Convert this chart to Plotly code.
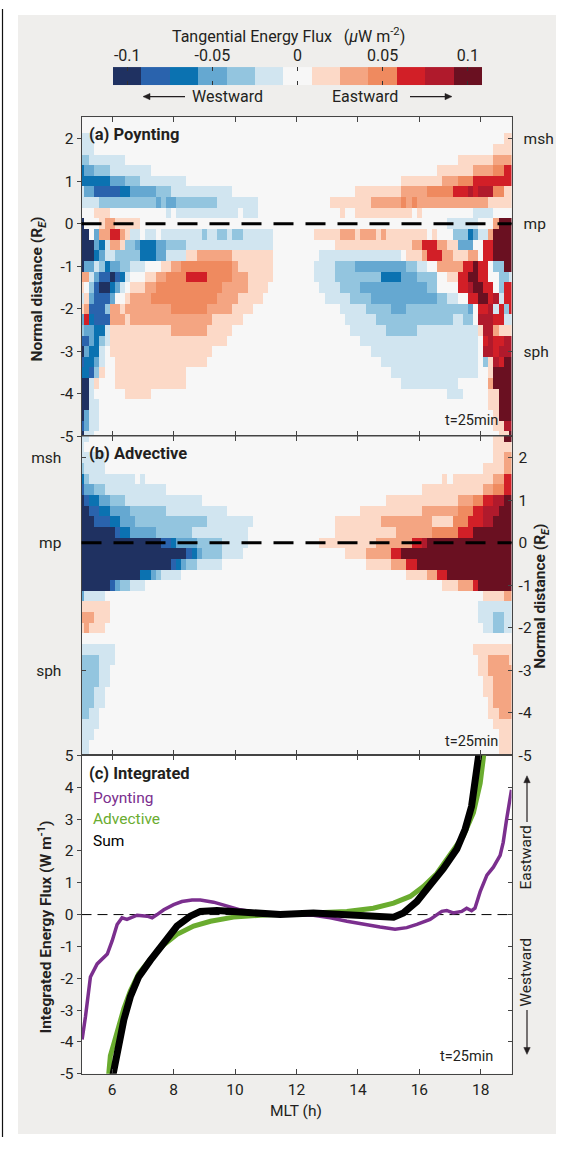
import plotly.graph_objects as go

W, H = 567, 1149


def px(x):
    return x / W


def py(y):
    return 1 - y / H


# ---------------- data ----------------
# heatmap grid (cell centres)
MLT_GRID = [round(5 + k / 6, 4) for k in range(85)]          # MLT (h)
DIST_GRID = [2.5 - 0.25 * j for j in range(31)]              # normal distance (R_E), top -> bottom
LEVEL_STEP = 1 / 60                                          # uW m^-2 per colour level

# colour levels; runs "code@end_column"
# codes: f e d c b a = -6..-1 , 0 , 1..6
POYNTING_ROWS = [
    "",
    "",
    "a@3 0@83 1@85",
    "a@3 0@81 1@85",
    "b@2 a@9 0@74 1@81 2@85",
    "d@1 c@3 b@6 a@14 0@70 1@77 2@81 3@83 4@85",
    "d@6 c@9 b@12 a@21 0@63 1@71 2@74 3@77 4@85",
    "a@1 c@3 e@8 d@10 c@15 b@18 a@30 0@54 1@63 2@68 3@73 4@76 5@77 4@78 5@81 3@83 1@85",
    "a@4 b@15 c@16 b@17 c@19 b@27 a@35 0@49 1@57 2@63 3@64 2@65 3@66 2@80 1@85",
    "0@3 1@6 0@17 a@18 0@19 a@31 0@32 a@35 0@51 1@52 0@54 1@65 0@66 1@67 0@77 a@81 0@85",
    "f@1 0@4 1@5 2@7 1@12 0@72 a@78 0@81 2@82 6@85",
    "f@2 0@3 c@4 2@6 4@8 2@9 1@10 a@12 0@13 a@15 0@16 a@24 b@25 a@27 b@29 a@30 b@32 a@38 0@46 1@51 2@54 1@55 2@58 1@59 2@60 1@68 0@69 1@70 0@73 b@76 d@77 c@78 a@80 2@81 6@85",
    "f@3 c@4 d@5 a@6 2@8 1@9 b@11 c@12 d@15 c@17 b@21 a@38 0@50 1@65 2@67 4@70 2@72 1@74 c@77 0@79 4@81 6@85",
    "f@3 d@4 c@5 a@7 b@12 d@15 c@17 a@21 1@23 2@30 1@38 0@47 a@63 0@64 1@67 2@68 4@71 2@73 1@76 2@78 0@79 4@81 6@85",
    "f@1 c@3 a@4 b@5 d@6 c@8 b@10 a@13 0@16 1@18 2@20 3@30 2@31 1@38 0@46 a@50 b@54 c@64 b@66 a@68 0@70 2@75 4@77 6@78 4@80 0@81 b@83 6@85",
    "2@2 a@3 c@4 e@6 f@7 e@8 d@9 a@10 0@13 1@15 2@17 3@21 4@25 3@30 2@33 1@38 0@46 a@50 b@59 d@63 c@66 b@70 0@72 1@74 4@76 6@78 4@80 0@82 b@84 a@85",
    "1@1 0@2 b@3 e@4 f@6 d@7 c@8 a@9 0@10 1@13 2@15 3@28 2@33 1@37 0@47 a@51 b@55 c@68 b@70 0@74 4@76 5@77 6@79 4@81 0@82 b@83 4@85",
    "a@1 1@2 c@3 e@6 c@7 0@9 1@10 2@14 3@27 2@31 1@36 0@48 a@53 b@57 c@70 b@72 a@74 0@76 4@78 6@80 4@81 5@82 a@83 4@85",
    "1@1 2@2 e@5 b@6 2@8 1@9 2@18 3@25 2@30 1@34 0@51 a@56 b@61 c@64 b@76 c@77 0@78 4@80 5@81 a@82 4@83 b@84 4@85",
    "c@1 4@2 d@3 e@6 2@9 1@10 2@26 1@32 0@52 a@58 b@73 a@75 b@77 0@78 5@81 4@83 a@85",
    "b@1 c@3 d@5 a@6 1@18 2@25 1@30 0@53 a@60 b@66 a@78 1@79 5@81 2@82 1@85",
    "e@2 c@3 d@4 b@5 a@6 1@29 0@55 a@78 0@79 4@80 5@81 4@83 5@85",
    "f@1 c@2 d@4 a@5 0@6 1@26 0@57 a@78 0@79 5@81 4@82 5@85",
    "e@1 d@3 c@4 a@5 0@7 1@25 0@59 a@78 0@79 b@80 1@81 5@82 4@83 6@85",
    "d@2 e@3 b@4 1@5 0@7 1@21 0@61 a@78 0@80 1@81 6@85",
    "f@2 a@3 1@4 0@7 1@21 0@63 a@74 0@80 2@81 6@85",
    "f@2 a@3 0@9 1@14 0@72 a@75 0@80 1@82 6@85",
    "f@2 a@4 0@80 1@82 6@85",
    "f@1 c@2 a@4 0@81 1@82 6@85",
    "e@1 c@2 a@4 0@81 1@83 5@85",
    "f@1 a@3 0@82 1@84 6@85",
]

ADVECTIVE_ROWS = [
    "a@2 0@81 1@83 6@85",
    "a@1 0@81 1@85",
    "a@5 0@81 1@83 2@85",
    "b@1 a@5 0@79 1@83 2@85",
    "d@1 b@2 a@11 0@12 a@13 0@71 1@72 0@73 1@81 2@83 4@85",
    "e@1 c@3 b@5 a@17 0@67 1@79 2@81 3@83 4@85",
    "f@1 e@2 d@4 c@6 b@9 a@24 0@60 1@74 2@77 3@79 4@81 5@83 6@85",
    "f@2 e@4 d@6 c@10 b@17 a@29 0@55 1@67 2@74 3@77 4@79 5@82 6@85",
    "f@3 e@6 d@8 c@11 b@25 a@34 0@50 1@59 2@69 1@73 3@76 4@79 5@81 6@85",
    "f@7 e@8 d@10 c@15 b@22 a@33 0@50 1@62 2@69 3@74 4@77 6@85",
    "f@16 e@18 d@19 c@23 b@28 a@33 0@47 1@58 2@65 4@67 5@68 6@85",
    "f@21 e@22 d@23 c@24 b@28 a@32 0@52 1@56 2@61 4@63 6@85",
    "f@18 e@19 d@20 c@21 b@23 a@28 0@56 1@61 2@64 4@66 6@85",
    "f@12 d@14 c@15 b@16 a@20 0@64 1@68 2@70 4@72 6@85",
    "f@6 e@7 c@8 b@10 a@13 0@71 1@74 2@77 4@78 6@85",
    "c@1 a@5 0@79 1@83 2@85",
    "1@6 0@78 a@85",
    "2@3 1@6 0@78 a@81 b@83 a@85",
    "1@1 2@2 1@5 0@79 a@81 b@83 a@85",
    "",
    "a@7 0@77 1@85",
    "b@4 a@7 0@78 1@80 2@84 1@85",
    "b@4 a@6 0@78 1@80 2@85",
    "b@4 a@6 0@79 1@81 2@85",
    "b@3 a@5 0@79 1@81 2@85",
    "b@3 a@5 0@80 1@81 2@85",
    "b@2 a@4 0@80 1@82 2@85",
    "a@4 0@81 1@85",
    "a@3 0@82 1@85",
    "a@2 0@82 1@85",
    "a@2 0@82 1@85",
]

# integrated energy flux (W m^-1)
POY_MLT = [5.02, 5.13, 5.29, 5.51, 5.84, 6.0, 6.16, 6.32, 6.48, 6.81, 7.14, 7.3, 7.46, 7.68, 8.0, 8.27,
           8.6, 8.87, 9.3, 9.74, 10.17, 10.82, 11.47, 12.01, 12.55, 13.1, 13.64, 14.18, 14.72, 15.21,
           15.59, 15.92, 16.35, 16.73, 16.89, 17.1, 17.38, 17.54, 17.7, 17.81, 17.98, 18.2, 18.41,
           18.63, 18.73, 18.84, 19.0]
POY_VAL = [-3.92, -3.2, -1.96, -1.55, -1.24, -0.82, -0.31, -0.10, -0.15, -0.02, -0.05, -0.10, 0.0,
           0.15, 0.31, 0.41, 0.46, 0.46, 0.39, 0.26, 0.15, 0.05, 0.0, -0.02, -0.02, -0.1, -0.21,
           -0.31, -0.39, -0.46, -0.41, -0.31, -0.15, 0.1, 0.13, 0.05, 0.1, 0.2, 0.12, 0.2, 0.72,
           1.24, 1.49, 1.86, 2.27, 2.99, 3.92]

ADV_MLT = [5.86, 5.94, 6.07, 6.2, 6.38, 6.59, 6.86, 7.24, 7.68, 8.11, 8.65, 9.2, 9.95, 10.82, 11.47,
           12.55, 13.64, 14.5, 15.16, 15.7, 16.13, 16.57, 17.0, 17.43, 17.76, 17.98, 18.12]
ADV_VAL = [-5.3, -4.43, -4.0, -3.55, -2.95, -2.4, -1.86, -1.40, -0.95, -0.62, -0.36, -0.21, -0.08,
           -0.02, 0.0, 0.05, 0.1, 0.2, 0.36, 0.57, 0.88, 1.29, 1.86, 2.47, 3.2, 4.12, 5.2]

SUM_MLT = [5.97, 6.21, 6.38, 6.59, 6.86, 7.24, 7.68, 8.11, 8.54, 8.87, 9.41, 9.95, 10.82, 11.47,
           12.55, 13.64, 14.5, 15.16, 15.48, 15.92, 16.35, 16.78, 17.22, 17.49, 17.7, 17.81, 17.96]
SUM_VAL = [-5.3, -4.0, -3.3, -2.58, -1.96, -1.44, -0.93, -0.36, -0.05, 0.1, 0.13, 0.1, 0.05, 0.0,
           0.05, -0.02, -0.08, -0.08, 0.05, 0.41, 0.93, 1.44, 2.06, 2.68, 3.4, 4.12, 5.2]

CBAR_LEVELS = list(range(-6, 7))
CBAR_TICKS = [-0.1, -0.05, 0, 0.05, 0.1]
CBAR_TICKTEXT = ["-0.1", "-0.05", "0", "0.05", "0.1"]

HEAT_YTICKS = [-5, -4, -3, -2, -1, 0, 1, 2]
HEAT_YTEXT = ["-5", "-4", "-3", "-2", "-1", "0", "1", "2"]
REGION_TICKS = [-3, 0, 2]
REGION_TEXT = ["sph", "mp", "msh"]
INT_YTICKS = [-5, -4, -3, -2, -1, 0, 1, 2, 3, 4, 5]
INT_YTEXT = ["-5", "-4", "-3", "-2", "-1", "0", "1", "2", "3", "4", "5"]
MLT_TICKS = [6, 8, 10, 12, 14, 16, 18]
MLT_TEXT = ["6", "8", "10", "12", "14", "16", "18"]

COLORS = ["#1f3161", "#2a63ad", "#0b72b1", "#65a8d1", "#93c5df", "#d1e5f0", "#f7f7f7",
          "#fcd9c7", "#f4a582", "#ef8a5f", "#d21f27", "#b01a2c", "#6a1021"]

CODE = {"f": -6, "e": -5, "d": -4, "c": -3, "b": -2, "a": -1, "0": 0,
        "1": 1, "2": 2, "3": 3, "4": 4, "5": 5, "6": 6}


def decode(rows):
    grid = []
    for r in rows:
        vals = [0] * len(MLT_GRID)
        start = 0
        for tok in r.split():
            c, e = tok.split("@")
            e = int(e)
            for k in range(start, min(e, len(vals))):
                vals[k] = CODE[c]
            start = e
        grid.append([v * LEVEL_STEP for v in vals])
    return grid[::-1]   # ascending y


Y_ASC = DIST_GRID[::-1]
Z_POY = decode(POYNTING_ROWS)
Z_ADV = decode(ADVECTIVE_ROWS)

n = len(COLORS)
cscale = []
for i, c in enumerate(COLORS):
    cscale.append([i / n, c])
    cscale.append([(i + 1) / n, c])
ZMAX = 6.5 * LEVEL_STEP

FONT = "Roboto"
TXT = "#231f20"
AX = "#444444"
PURPLE = "#7b2f8e"
GREEN = "#6aac2f"

fig = go.Figure()

fig.add_trace(go.Heatmap(x=MLT_GRID, y=Y_ASC, z=Z_POY, colorscale=cscale, zmin=-ZMAX, zmax=ZMAX,
                         showscale=False, xaxis="x", yaxis="y", hoverinfo="skip"))
fig.add_trace(go.Heatmap(x=MLT_GRID, y=Y_ASC, z=Z_ADV, colorscale=cscale, zmin=-ZMAX, zmax=ZMAX,
                         showscale=False, xaxis="x2", yaxis="y3", hoverinfo="skip"))
fig.add_trace(go.Heatmap(x=[l * LEVEL_STEP for l in CBAR_LEVELS], y=[0],
                         z=[[l * LEVEL_STEP for l in CBAR_LEVELS]], colorscale=cscale,
                         zmin=-ZMAX, zmax=ZMAX, showscale=False, xaxis="x4", yaxis="y7",
                         hoverinfo="skip"))

# empty traces so that the overlaid label / tick axes get drawn
for xa, ya in (("x", "y2"), ("x2", "y4"), ("x3", "y6")):
    fig.add_trace(go.Scatter(x=[], y=[], xaxis=xa, yaxis=ya, showlegend=False, hoverinfo="skip"))

fig.add_trace(go.Scatter(x=POY_MLT, y=POY_VAL, mode="lines", line=dict(color=PURPLE, width=3.5),
                         xaxis="x3", yaxis="y5", showlegend=False, hoverinfo="skip"))
fig.add_trace(go.Scatter(x=ADV_MLT, y=ADV_VAL, mode="lines", line=dict(color=GREEN, width=5),
                         xaxis="x3", yaxis="y5", showlegend=False, hoverinfo="skip"))
fig.add_trace(go.Scatter(x=SUM_MLT, y=SUM_VAL, mode="lines", line=dict(color="#000000", width=7),
                         xaxis="x3", yaxis="y5", showlegend=False, hoverinfo="skip"))

XD = [px(81.5), px(511.5)]
DA = [py(434.3), py(110)]
DB = [py(758.3), py(434.3)]
DC = [py(1081.7), py(758.3)]

tickfont = dict(family=FONT, size=15.5, color=TXT)


def xax(domain, anchor, labels=False):
    d = dict(domain=domain, anchor=anchor, range=[5, 19], tickvals=MLT_TICKS, ticktext=MLT_TEXT,
             ticks="inside", ticklen=5, tickcolor=AX, showline=True, linecolor=AX, linewidth=1,
             mirror="ticks", showgrid=False, zeroline=False, showticklabels=labels,
             tickfont=tickfont, fixedrange=True)
    if labels:
        d["ticklabelstandoff"] = 2
    return d


def yax(domain, anchor, rng, tv, tt, side="left", overlaying=None, ticks="outside", standoff=None,
        labels=True):
    d = dict(domain=domain, anchor=anchor, range=rng, tickvals=tv, ticks=ticks,
             ticklen=4, tickcolor=AX, showline=True, linecolor=AX, linewidth=1, side=side,
             showgrid=False, zeroline=False, tickfont=tickfont, fixedrange=True,
             showticklabels=labels)
    if tt is not None:
        d["ticktext"] = tt
    if overlaying:
        d["overlaying"] = overlaying
    if standoff is not None:
        d["ticklabelstandoff"] = standoff
    return d


layout = dict(
    width=W, height=H, autosize=False,
    margin=dict(l=0, r=0, t=0, b=0),
    paper_bgcolor="white", plot_bgcolor="rgba(0,0,0,0)",
    showlegend=False,
    font=dict(family=FONT, color=TXT),
    xaxis=xax(XD, "y"),
    yaxis=yax(DA, "x", [-5, 2.5], HEAT_YTICKS, HEAT_YTEXT),
    yaxis2=yax(DA, "x", [-5, 2.5], REGION_TICKS, REGION_TEXT, side="right", overlaying="y",
               ticks="inside", standoff=8),
    xaxis2=xax(XD, "y3"),
    yaxis3=yax(DB, "x2", [-5, 2.5], HEAT_YTICKS, HEAT_YTEXT, side="right", ticks="inside",
               standoff=3),
    yaxis4=yax(DB, "x2", [-5, 2.5], REGION_TICKS, REGION_TEXT, side="left", overlaying="y3",
               ticks="inside", standoff=16),
    xaxis3=xax(XD, "y5", labels=True),
    yaxis5=yax(DC, "x3", [-5, 5], INT_YTICKS, INT_YTEXT),
    yaxis6=yax(DC, "x3", [-5, 5], INT_YTICKS, None, side="right", overlaying="y5",
               ticks="inside", labels=False),
    xaxis4=dict(domain=[px(113), px(482)], anchor="y7", range=[-ZMAX, ZMAX], side="top",
                tickvals=CBAR_TICKS, ticktext=CBAR_TICKTEXT, ticks="inside", ticklen=4,
                tickcolor="#333", mirror="ticks", showline=False, showgrid=False, zeroline=False,
                tickfont=dict(family=FONT, size=16, color=TXT), fixedrange=True,
                ticklabelstandoff=2),
    yaxis7=dict(domain=[py(77.5), py(59)], anchor="x4", range=[-0.5, 0.5], showticklabels=False,
                ticks="", showline=False, showgrid=False, zeroline=False, fixedrange=True),
)
fig.update_layout(**layout)


def path_line(x0, y0, x1, y1, width=1.2):
    return dict(type="path", xref="paper", yref="paper",
                path="M %f,%f L %f,%f" % (px(x0), py(y0), px(x1), py(y1)),
                line=dict(color=TXT, width=width))


def head(xt, yt, direction, size=7, half=3.2):
    if direction == "left":
        pts = [(xt, yt), (xt + size, yt - half), (xt + size, yt + half)]
    elif direction == "right":
        pts = [(xt, yt), (xt - size, yt - half), (xt - size, yt + half)]
    elif direction == "up":
        pts = [(xt, yt), (xt - half, yt + size), (xt + half, yt + size)]
    else:
        pts = [(xt, yt), (xt - half, yt - size), (xt + half, yt - size)]
    p = "M %f,%f L %f,%f L %f,%f Z" % tuple(v for q in pts for v in (px(q[0]), py(q[1])))
    return dict(type="path", xref="paper", yref="paper", path=p, fillcolor=TXT,
                line=dict(color=TXT, width=0.5))


shapes = [
    dict(type="rect", xref="paper", yref="paper", x0=px(18), x1=px(556), y0=py(1143), y1=py(6),
         fillcolor="#efeeec", line=dict(width=0), layer="below"),
    dict(type="rect", xref="paper", yref="paper", x0=XD[0], x1=XD[1], y0=DC[0], y1=DC[1],
         fillcolor="white", line=dict(width=0), layer="below"),
    dict(type="line", xref="paper", yref="paper", x0=px(2.5), x1=px(2.5), y0=py(1146), y1=1,
         line=dict(color="#111", width=1.2)),
    dict(type="line", xref="x domain", yref="y", x0=0, x1=1, y0=0, y1=0,
         line=dict(color="black", width=3, dash="20px,12px")),
    dict(type="line", xref="x2 domain", yref="y3", x0=0, x1=1, y0=0, y1=0,
         line=dict(color="black", width=3, dash="20px,12px")),
    dict(type="line", xref="x3 domain", yref="y5", x0=0, x1=1, y0=0, y1=0,
         line=dict(color="black", width=1, dash="10px,6px"), layer="below"),
    # direction arrows
    path_line(146, 89, 185, 89), head(143, 89, "left"),
    path_line(410, 89, 449, 89), head(452, 89, "right"),
    path_line(527, 782, 527, 826), head(527, 779, "up"),
    path_line(527, 1017, 527, 1059), head(527, 1062, "down"),
]
fig.update_layout(shapes=shapes)

ann = []


def text(x, y, s, size=15, color=TXT, xanchor="left", angle=0, bold=False):
    ann.append(dict(xref="paper", yref="paper", x=px(x), y=py(y),
                    text=("<b>%s</b>" % s) if bold else s,
                    showarrow=False, xanchor=xanchor, yanchor="middle", textangle=angle,
                    font=dict(family=FONT, size=size, color=color)))


text(288, 27, "Tangential Energy Flux\u00a0\u00a0\u00a0(<i>\u03bc</i>W m<sup>-2</sup>)", size=16,
     xanchor="center")
text(227, 89, "Westward", size=16, xanchor="center")
text(365, 89, "Eastward", size=16, xanchor="center")

text(87, 128, "(a) Poynting", size=16.5, bold=True)
text(87, 452, "(b) Advective", size=16.5, bold=True)
text(87, 777, "(c) Integrated", size=16.5, bold=True)
text(91, 802, "Poynting", size=15.5, color=PURPLE)
text(91, 823, "Advective", size=15.5, color=GREEN)
text(91, 845, "Sum", size=15.5, color="#000000")

text(500, 418, "t=25min", size=14.5, xanchor="right")
text(500, 744, "t=25min", size=14.5, xanchor="right")
text(495, 1064, "t=25min", size=14.5, xanchor="right")

text(38, 285, "Normal distance (R<sub><i>E</i></sub>)", size=15.5, xanchor="center", angle=-90,
     bold=True)
text(541, 597, "Normal distance (R<sub><i>E</i></sub>)", size=15.5, xanchor="center", angle=-90,
     bold=True)
text(45, 933, "Integrated Energy Flux (W m<sup>-1</sup>)", size=15.5, xanchor="center", angle=-90,
     bold=True)
text(296, 1120, "MLT (h)", size=15.5, xanchor="center")

text(526, 862, "Eastward", size=15.5, xanchor="center", angle=-90)
text(526, 979, "Westward", size=15.5, xanchor="center", angle=-90)

fig.update_layout(annotations=ann)

fig.write_html("out.html", config={"displayModeBar": False},
               post_script="document.body.style.margin='0px';")
